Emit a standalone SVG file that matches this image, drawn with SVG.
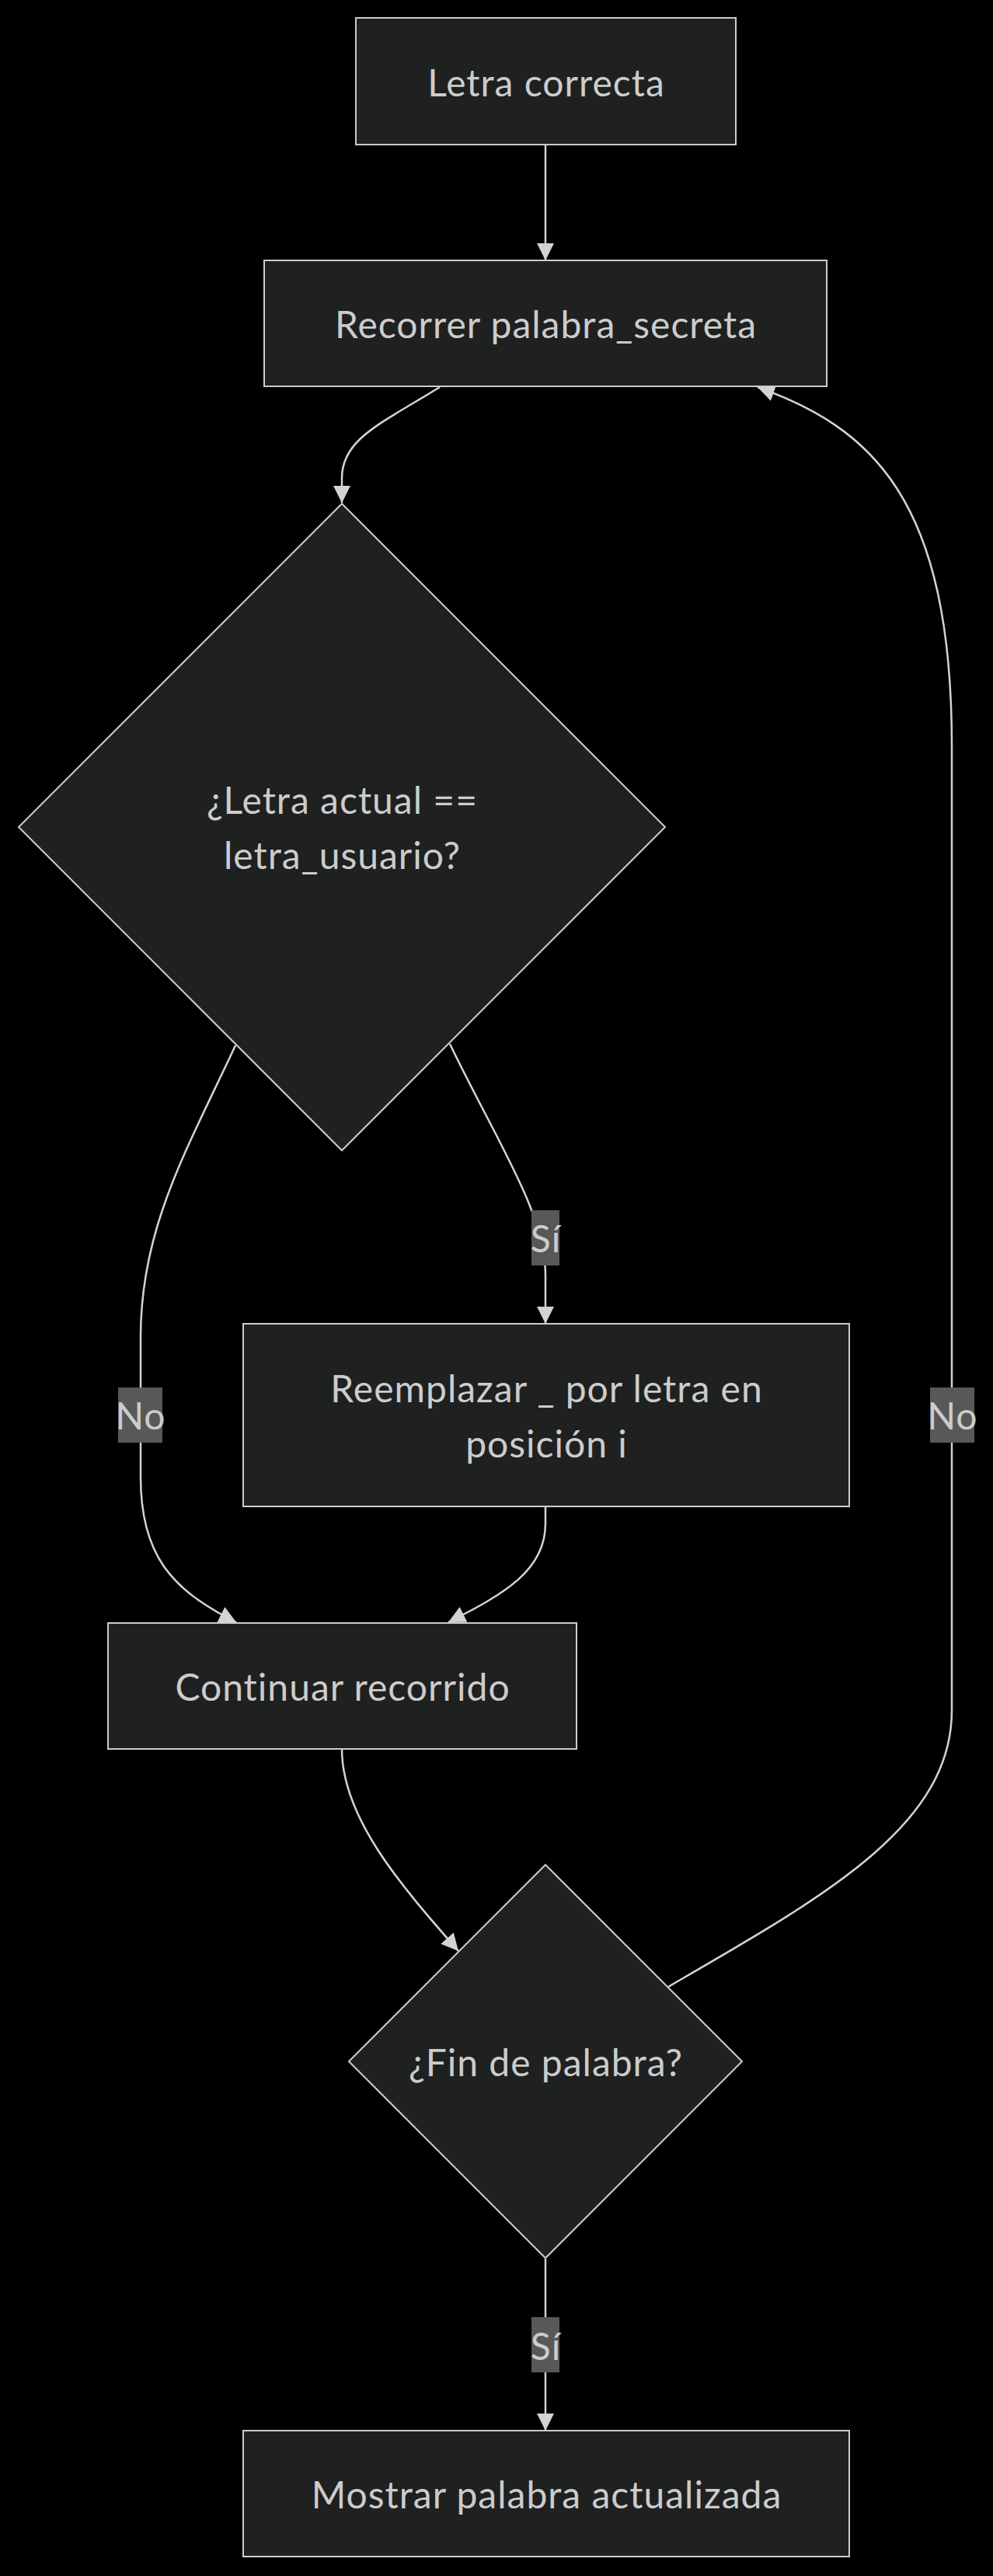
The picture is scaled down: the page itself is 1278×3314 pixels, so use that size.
<svg xmlns="http://www.w3.org/2000/svg" width="1278" height="3314" viewBox="0 0 1278 3314">
<defs>
<style>
.node rect, .node polygon { fill: #1f2020; stroke: #cccccc; stroke-width: 2; }
.node text { fill: #cccccc; font-family: Lato, "Open Sans", sans-serif; font-size: 48px; letter-spacing: 1px; text-anchor: middle; dominant-baseline: central; }
.edge { fill: none; stroke: #d3d3d3; stroke-width: 2.5; }
.lbl rect { fill: #585858; }
.lbl text { fill: #cccccc; font-family: Lato, "Open Sans", sans-serif; font-size: 48px; letter-spacing: 1px; text-anchor: middle; dominant-baseline: central; }
</style>
<marker id="arrow" viewBox="0 0 10 10" refX="10" refY="5" markerUnits="userSpaceOnUse" markerWidth="22" markerHeight="22" orient="auto">
<path d="M0,0 L10,5 L0,10 z" fill="#d3d3d3"/>
</marker>
</defs>
<rect x="0" y="0" width="1278" height="3314" fill="#000000"/>
<g id="connectors">
<path class="edge" d="M702,187 L702,335" marker-end="url(#arrow)"/>
<path class="edge" d="M566,498 C490,545 440,565 440,615 L440,647" marker-end="url(#arrow)"/>
<path class="edge" d="M579,1343 C640,1470 702,1560 702,1640 L702,1703" marker-end="url(#arrow)"/>
<path class="edge" d="M303,1345 C240,1480 181,1580 181,1720 L181,1900 C181,2000 220,2045 304,2087" marker-end="url(#arrow)"/>
<path class="edge" d="M702,1938 L702,1960 C702,2020 650,2050 577,2087" marker-end="url(#arrow)"/>
<path class="edge" d="M440,2250 C440,2340 520,2430 590,2510" marker-end="url(#arrow)"/>
<path class="edge" d="M860,2556 C1060,2440 1225,2350 1225,2200 L1225,960 C1225,640 1120,550 975,498" marker-end="url(#arrow)"/>
<path class="edge" d="M702,2906 L702,3127" marker-end="url(#arrow)"/>
</g>
<g id="edge-labels">
<g class="lbl" id="lbl-si-1"><rect x="684" y="1557" width="36" height="71"/><text x="702.5" y="1592">Sí</text></g>
<g class="lbl" id="lbl-no-1"><rect x="152" y="1785" width="57" height="71"/><text x="181" y="1820">No</text></g>
<g class="lbl" id="lbl-no-2"><rect x="1197" y="1785" width="57" height="71"/><text x="1226" y="1820">No</text></g>
<g class="lbl" id="lbl-si-2"><rect x="684" y="2981" width="36" height="71"/><text x="702.5" y="3017">Sí</text></g>
</g>
<g id="n-letra-correcta" class="node"><rect x="458" y="23" width="489" height="163"/><text x="703" y="105">Letra correcta</text></g>
<g id="n-recorrer" class="node"><rect x="340" y="335" width="724" height="162"/><text x="702.5" y="416">Recorrer palabra_secreta</text></g>
<g id="n-letra-actual" class="node"><polygon points="440,648 856,1064 440,1480 24,1064"/><text x="440.5" y="1028">¿Letra actual ==</text><text x="440.5" y="1099">letra_usuario?</text></g>
<g id="n-reemplazar" class="node"><rect x="313" y="1703" width="780" height="235"/><text x="703.5" y="1785">Reemplazar _ por letra en</text><text x="703.5" y="1856">posición i</text></g>
<g id="n-continuar" class="node"><rect x="139" y="2088" width="603" height="162"/><text x="441" y="2169">Continuar recorrido</text></g>
<g id="n-fin" class="node"><polygon points="702,2399 955,2652 702,2905 449,2652"/><text x="702.5" y="2652">¿Fin de palabra?</text></g>
<g id="n-mostrar" class="node"><rect x="313" y="3127" width="780" height="162"/><text x="703.5" y="3208">Mostrar palabra actualizada</text></g>
</svg>
